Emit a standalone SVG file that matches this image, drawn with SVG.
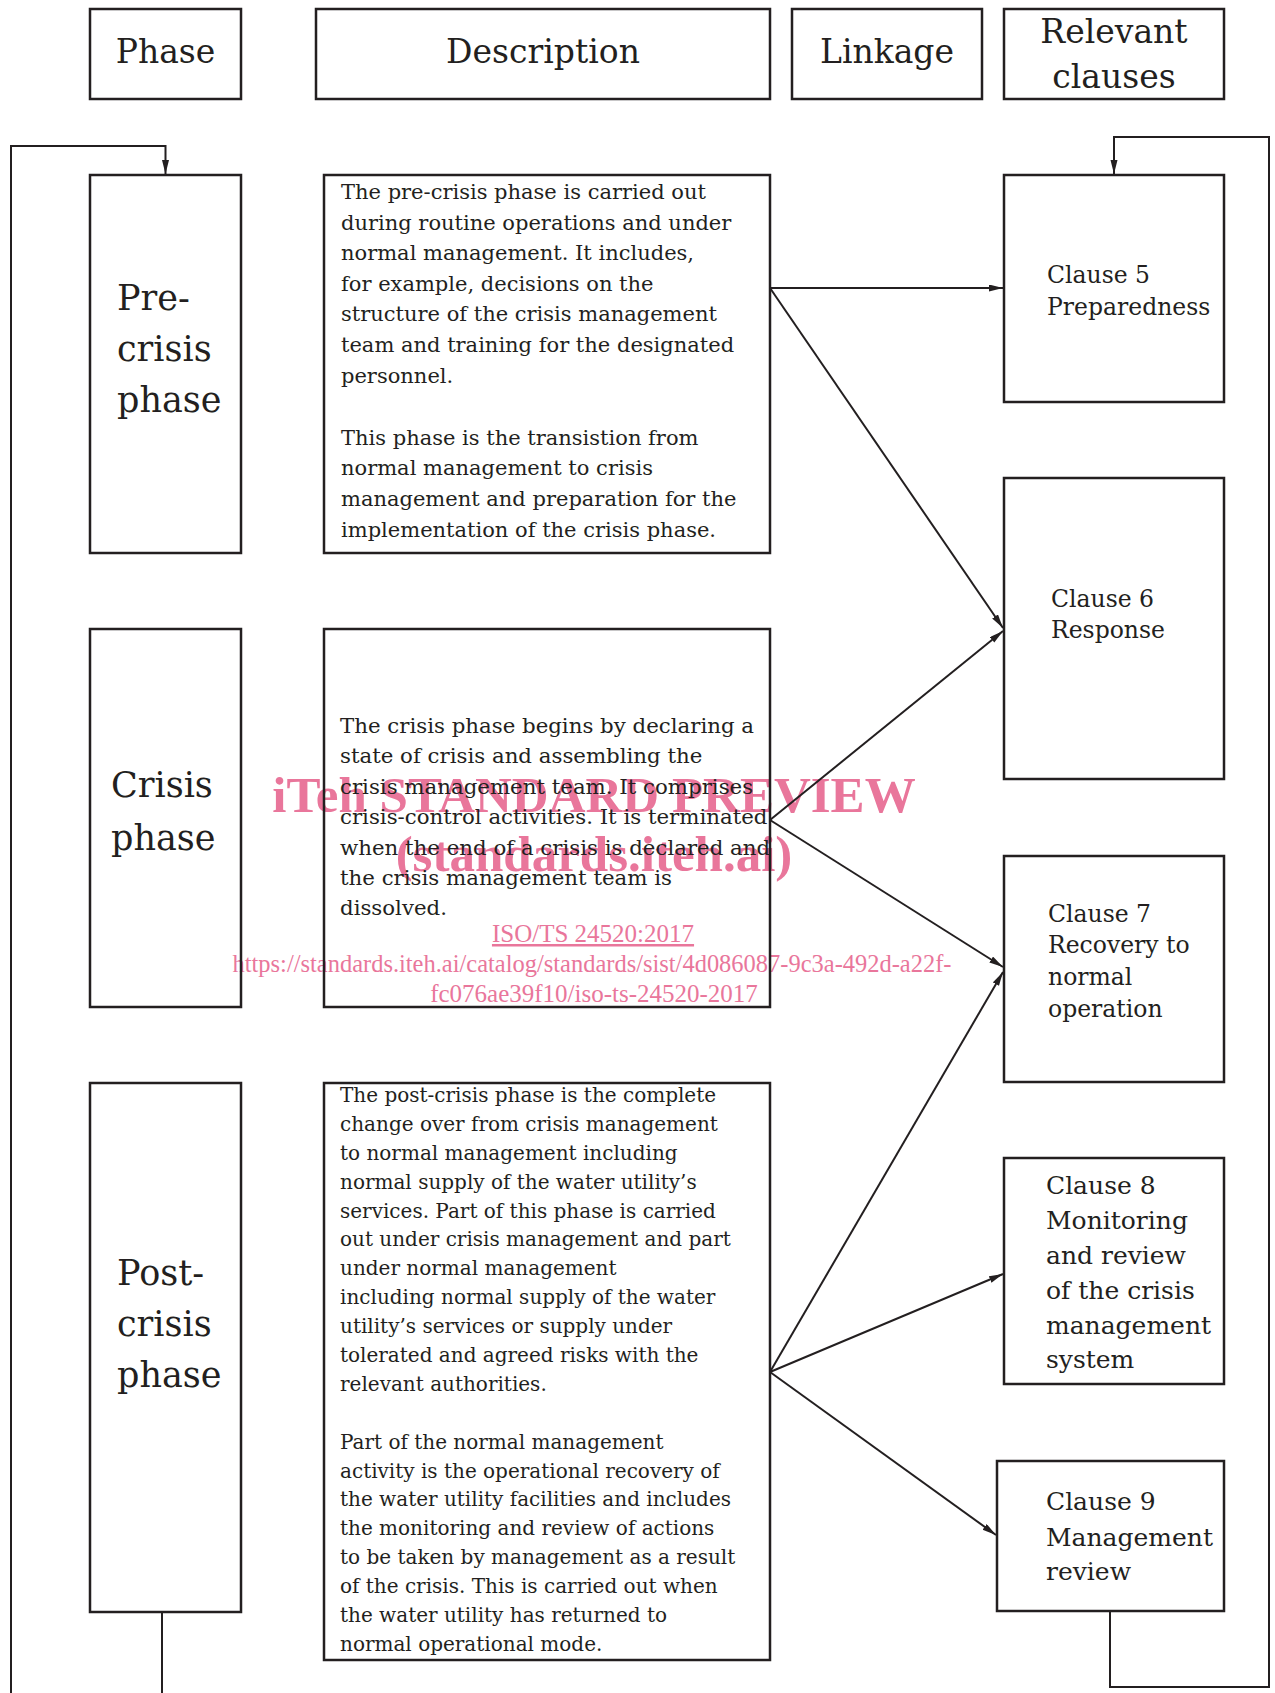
<svg xmlns="http://www.w3.org/2000/svg" width="1275" height="1693" viewBox="0 0 1275 1693">
<style>
.box{fill:none;stroke:#231f20;stroke-width:2.5}
.con{fill:none;stroke:#231f20;stroke-width:2}
.t{font-family:"DejaVu Serif","Liberation Serif",serif;fill:#231f20}
.hd{font-size:33px;text-anchor:middle}
.ph{font-size:35px}
.d1{font-size:21px}
.d2{font-size:21.3px}
.d3{font-size:20px}
.c1{font-size:23.5px}
.c2{font-size:25px}
.wm{font-family:"Liberation Serif",serif;fill:#e9769b;text-anchor:middle}
</style>
<defs>
<marker id="ah" markerUnits="userSpaceOnUse" markerWidth="16" markerHeight="10" refX="14" refY="3.5" orient="auto">
<path d="M0,0 L14,3.5 L0,7 z" fill="#231f20"/>
</marker>
</defs>
<rect width="1275" height="1693" fill="#ffffff"/>

<g id="watermark">
<text class="wm" x="594" y="812" font-size="51" font-weight="bold">iTeh STANDARD PREVIEW</text>
<text class="wm" x="594" y="871" font-size="51" font-weight="bold">(standards.iteh.ai)</text>
<text class="wm" x="593" y="942" font-size="25" text-decoration="underline">ISO/TS 24520:2017</text>
<text class="wm" x="592" y="972" font-size="25" textLength="719" lengthAdjust="spacingAndGlyphs">https://standards.iteh.ai/catalog/standards/sist/4d086087-9c3a-492d-a22f-</text>
<text class="wm" x="594" y="1002" font-size="25">fc076ae39f10/iso-ts-24520-2017</text>
</g>

<g id="header-phase"><rect class="box" x="90" y="9" width="151" height="90"/><text class="t hd" x="165.5" y="63">Phase</text></g>
<g id="header-description"><rect class="box" x="316" y="9" width="454" height="90"/><text class="t hd" x="543" y="63">Description</text></g>
<g id="header-linkage"><rect class="box" x="792" y="9" width="190" height="90"/><text class="t hd" x="887" y="63">Linkage</text></g>
<g id="header-clauses"><rect class="box" x="1004" y="9" width="220" height="90"/><text class="t hd" x="1114" y="43" font-size="32">Relevant</text><text class="t hd" x="1114" y="88" font-size="32">clauses</text></g>

<g id="phase-pre"><rect class="box" x="90" y="175" width="151" height="378"/>
<text class="t ph" x="117" y="310">Pre-</text><text class="t ph" x="117" y="361">crisis</text><text class="t ph" x="117" y="412">phase</text></g>
<g id="phase-crisis"><rect class="box" x="90" y="629" width="151" height="378"/>
<text class="t ph" x="111" y="797">Crisis</text><text class="t ph" x="111" y="850">phase</text></g>
<g id="phase-post"><rect class="box" x="90" y="1083" width="151" height="529"/>
<text class="t ph" x="117" y="1285">Post-</text><text class="t ph" x="117" y="1336">crisis</text><text class="t ph" x="117" y="1387">phase</text></g>

<g id="desc-pre"><rect class="box" x="324" y="175" width="446" height="378"/>
<text class="t d1" x="341" y="199">The pre-crisis phase is carried out</text>
<text class="t d1" x="341" y="230">during routine operations and under</text>
<text class="t d1" x="341" y="260">normal management. It includes,</text>
<text class="t d1" x="341" y="291">for example, decisions on the</text>
<text class="t d1" x="341" y="321">structure of the crisis management</text>
<text class="t d1" x="341" y="352">team and training for the designated</text>
<text class="t d1" x="341" y="383">personnel.</text>
<text class="t d1" x="341" y="445">This phase is the transistion from</text>
<text class="t d1" x="341" y="475">normal management to crisis</text>
<text class="t d1" x="341" y="506">management and preparation for the</text>
<text class="t d1" x="341" y="537">implementation of the crisis phase.</text>
</g>

<g id="desc-crisis"><rect class="box" x="324" y="629" width="446" height="378"/>
<text class="t d2" x="340" y="733">The crisis phase begins by declaring a</text>
<text class="t d2" x="340" y="763">state of crisis and assembling the</text>
<text class="t d2" x="340" y="794">crisis management team. It comprises</text>
<text class="t d2" x="340" y="824">crisis-control activities. It is terminated</text>
<text class="t d2" x="340" y="855">when the end of a crisis is declared and</text>
<text class="t d2" x="340" y="885">the crisis management team is</text>
<text class="t d2" x="340" y="915">dissolved.</text>
</g>

<g id="desc-post"><rect class="box" x="324" y="1083" width="446" height="577"/>
<text class="t d3" x="340" y="1102">The post-crisis phase is the complete</text>
<text class="t d3" x="340" y="1131">change over from crisis management</text>
<text class="t d3" x="340" y="1160">to normal management including</text>
<text class="t d3" x="340" y="1189">normal supply of the water utility’s</text>
<text class="t d3" x="340" y="1218">services. Part of this phase is carried</text>
<text class="t d3" x="340" y="1246">out under crisis management and part</text>
<text class="t d3" x="340" y="1275">under normal management</text>
<text class="t d3" x="340" y="1304">including normal supply of the water</text>
<text class="t d3" x="340" y="1333">utility’s services or supply under</text>
<text class="t d3" x="340" y="1362">tolerated and agreed risks with the</text>
<text class="t d3" x="340" y="1391">relevant authorities.</text>
<text class="t d3" x="340" y="1449">Part of the normal management</text>
<text class="t d3" x="340" y="1478">activity is the operational recovery of</text>
<text class="t d3" x="340" y="1506">the water utility facilities and includes</text>
<text class="t d3" x="340" y="1535">the monitoring and review of actions</text>
<text class="t d3" x="340" y="1564">to be taken by management as a result</text>
<text class="t d3" x="340" y="1593">of the crisis. This is carried out when</text>
<text class="t d3" x="340" y="1622">the water utility has returned to</text>
<text class="t d3" x="340" y="1651">normal operational mode.</text>
</g>

<g id="clause5"><rect class="box" x="1004" y="175" width="220" height="227"/>
<text class="t c1" x="1047" y="283">Clause 5</text><text class="t c1" x="1047" y="315">Preparedness</text></g>
<g id="clause6"><rect class="box" x="1004" y="478" width="220" height="301"/>
<text class="t c1" x="1051" y="607">Clause 6</text><text class="t c1" x="1051" y="638">Response</text></g>
<g id="clause7"><rect class="box" x="1004" y="856" width="220" height="226"/>
<text class="t c1" x="1048" y="922">Clause 7</text><text class="t c1" x="1048" y="953">Recovery to</text><text class="t c1" x="1048" y="985">normal</text><text class="t c1" x="1048" y="1017">operation</text></g>
<g id="clause8"><rect class="box" x="1004" y="1158" width="220" height="226"/>
<text class="t c2" x="1046" y="1194">Clause 8</text><text class="t c2" x="1046" y="1229">Monitoring</text><text class="t c2" x="1046" y="1264">and review</text><text class="t c2" x="1046" y="1299">of the crisis</text><text class="t c2" x="1046" y="1334">management</text><text class="t c2" x="1046" y="1368">system</text></g>
<g id="clause9"><rect class="box" x="997" y="1461" width="227" height="150"/>
<text class="t c2" x="1046" y="1510">Clause 9</text><text class="t c2" x="1046" y="1546">Management</text><text class="t c2" x="1046" y="1580">review</text></g>

<g id="connectors">
<line class="con" x1="770" y1="288" x2="1003" y2="288" marker-end="url(#ah)"/>
<line class="con" x1="770" y1="288" x2="1003" y2="628" marker-end="url(#ah)"/>
<line class="con" x1="770" y1="820" x2="1003" y2="631" marker-end="url(#ah)"/>
<line class="con" x1="770" y1="820" x2="1003" y2="967" marker-end="url(#ah)"/>
<line class="con" x1="770" y1="1372" x2="1003" y2="972" marker-end="url(#ah)"/>
<line class="con" x1="770" y1="1372" x2="1003" y2="1274" marker-end="url(#ah)"/>
<line class="con" x1="770" y1="1372" x2="996" y2="1535" marker-end="url(#ah)"/>
<polyline class="con" points="162,1612 162,1693"/>
<polyline class="con" points="11,1693 11,146 165.5,146 165.5,174" marker-end="url(#ah)"/>
<polyline class="con" points="1110,1611 1110,1687 1269,1687 1269,137 1114,137 1114,174" marker-end="url(#ah)"/>
</g>
</svg>
